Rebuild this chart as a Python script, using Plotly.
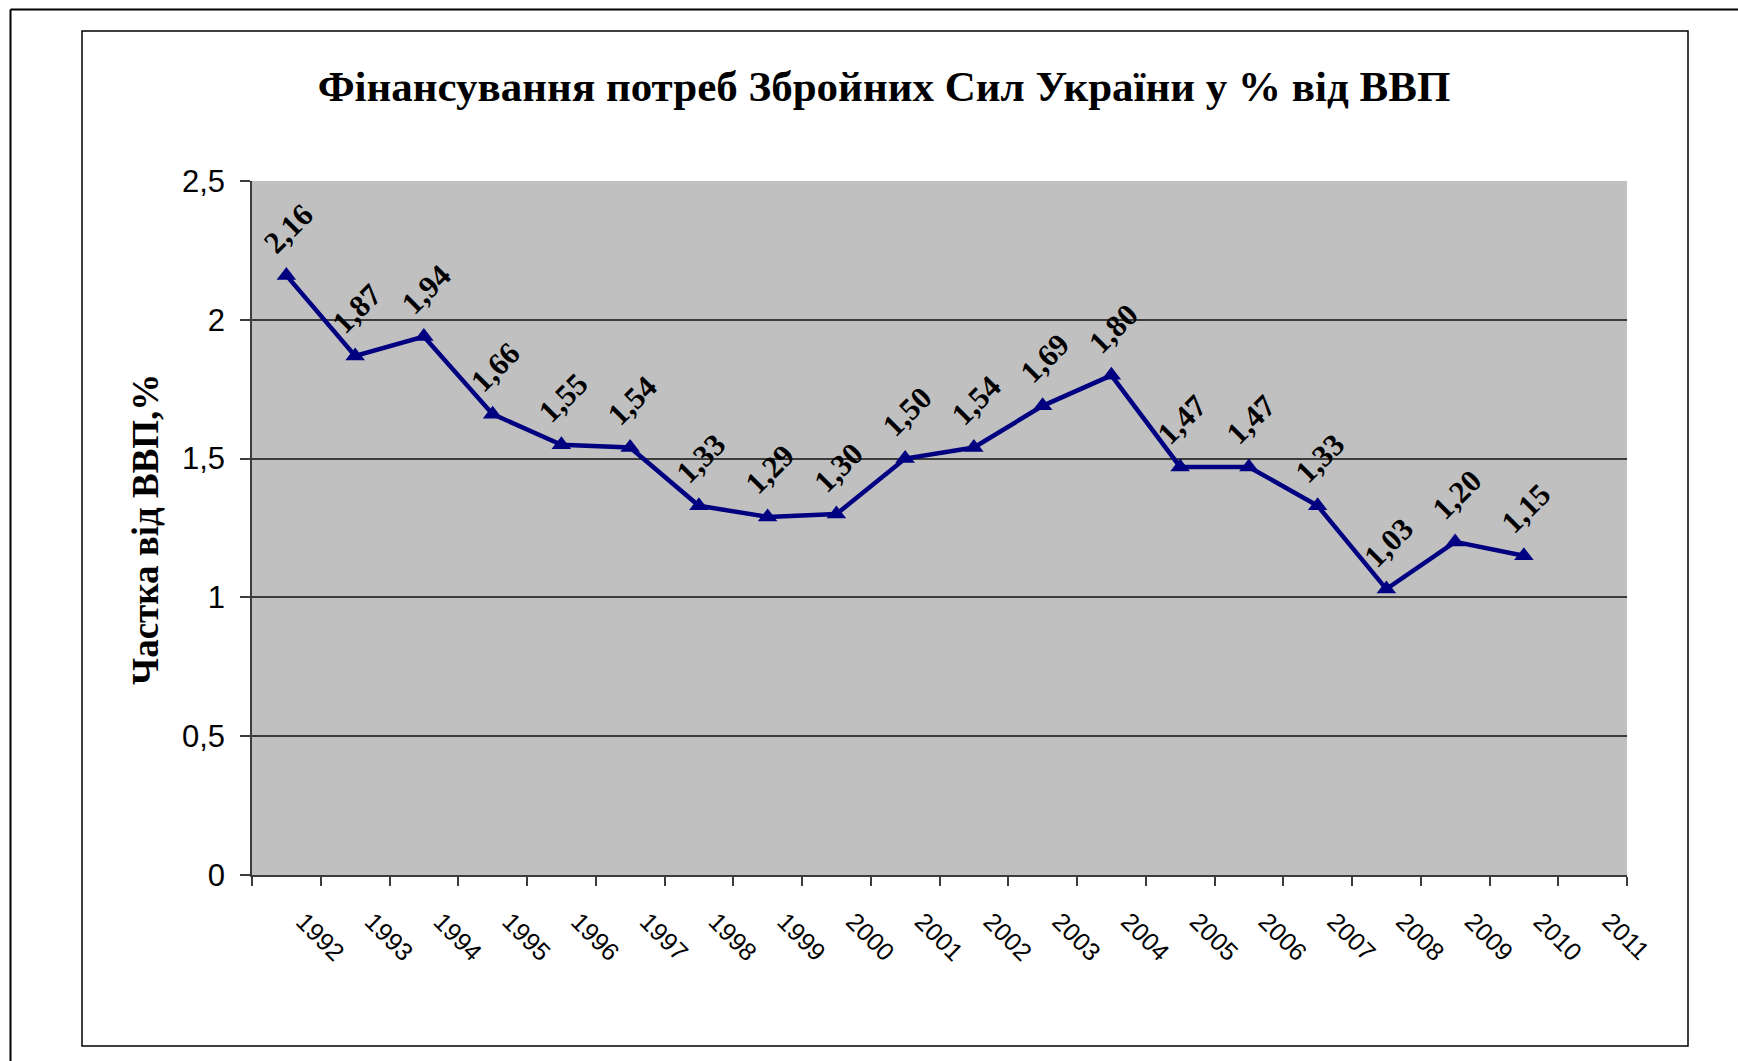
import plotly.graph_objects as go

years = [str(y) for y in range(1992, 2012)]
value_years = [str(y) for y in range(1992, 2011)]
values = [2.16, 1.87, 1.94, 1.66, 1.55, 1.54, 1.33, 1.29, 1.30, 1.50,
          1.54, 1.69, 1.80, 1.47, 1.47, 1.33, 1.03, 1.20, 1.15]
y_ticks = [0, 0.5, 1, 1.5, 2, 2.5]

title_text = "Фінансування потреб Збройних Сил України у % від ВВП"
y_title = "Частка від ВВП,%"

W, H = 1738, 1061
L, R, T, B = 252, 1627, 181, 875

serif = "Liberation Serif, Times New Roman, serif"
sans = "Liberation Sans, Arial, sans-serif"
navy = "#000080"
grid = "#3c3c3c"

fig = go.Figure()
fig.add_trace(go.Scatter(
    x=value_years, y=values, mode="lines+markers",
    line=dict(color=navy, width=4.5),
    marker=dict(symbol="triangle-up", size=17, color=navy),
    hoverinfo="skip", showlegend=False,
))

for yr, v in zip(value_years, values):
    fig.add_annotation(
        x=years.index(yr), y=v, xref="x", yref="y",
        text=f"{v:.2f}".replace(".", ","),
        textangle=-45, showarrow=False,
        xanchor="center", yanchor="middle",
        xshift=2, yshift=47,
        font=dict(family=serif, size=31, color="black", weight="bold"),
    )

def px(xp):
    return (xp - L) / (R - L)

def py(yp):
    return (B - yp) / (B - T)

# frames
fig.add_shape(type="line", xref="paper", yref="paper",
              x0=px(10.5), y0=py(9.5), x1=px(W + 5), y1=py(9.5),
              line=dict(color="black", width=2))
fig.add_shape(type="line", xref="paper", yref="paper",
              x0=px(10.5), y0=py(9.5), x1=px(10.5), y1=py(H + 5),
              line=dict(color="black", width=2))
fig.add_shape(type="rect", xref="paper", yref="paper",
              x0=px(82), y0=py(31), x1=px(1688), y1=py(1046),
              line=dict(color="black", width=1.5), fillcolor="rgba(0,0,0,0)",
              layer="below")
# hide top gridline at 2.5 (reference has plain edge)
fig.add_shape(type="line", xref="paper", yref="y",
              x0=0, x1=1, y0=y_ticks[-1], y1=y_ticks[-1],
              line=dict(color="#C0C0C0", width=2), layer="between")

fig.add_annotation(
    xref="paper", yref="paper", x=px(145), y=py(530),
    text=y_title, textangle=-90, showarrow=False,
    xanchor="center", yanchor="middle",
    font=dict(family=serif, size=37, color="black", weight="bold"),
)

fig.update_layout(
    width=W, height=H,
    margin=dict(l=L, r=W - R, t=T, b=H - B, pad=0),
    paper_bgcolor="white", plot_bgcolor="#C0C0C0",
    separators=", ",
    title=dict(
        text=title_text, xref="paper", yref="container",
        x=px(884), xanchor="center", y=1 - 86 / H, yanchor="middle",
        font=dict(family=serif, size=43, color="black", weight="bold"),
    ),
    xaxis=dict(
        type="category", categoryorder="array", categoryarray=years,
        tickvals=years, range=[-0.5, len(years) - 0.5],
        tickson="boundaries", ticks="outside", ticklen=9,
        tickcolor=grid, tickwidth=1.5,
        showline=True, linecolor=grid, linewidth=2,
        showgrid=False, zeroline=False,
        tickangle=45,
        ticklabelstandoff=20, ticklabelshift=17,
        tickfont=dict(family=sans, size=25, color="black"),
    ),
    yaxis=dict(
        range=[0, 2.5], tickvals=y_ticks,
        ticks="outside", ticklen=10, tickcolor=grid, tickwidth=1.5,
        showline=True, linecolor=grid, linewidth=1.5,
        showgrid=True, gridcolor=grid, gridwidth=1.5,
        zeroline=False,
        ticklabelstandoff=9,
        tickfont=dict(family=sans, size=31, color="black"),
    ),
)

fig.write_html(
    "out.html",
    config={"displayModeBar": False},
    post_script="document.body.style.margin='0';document.body.style.overflow='hidden';",
)
